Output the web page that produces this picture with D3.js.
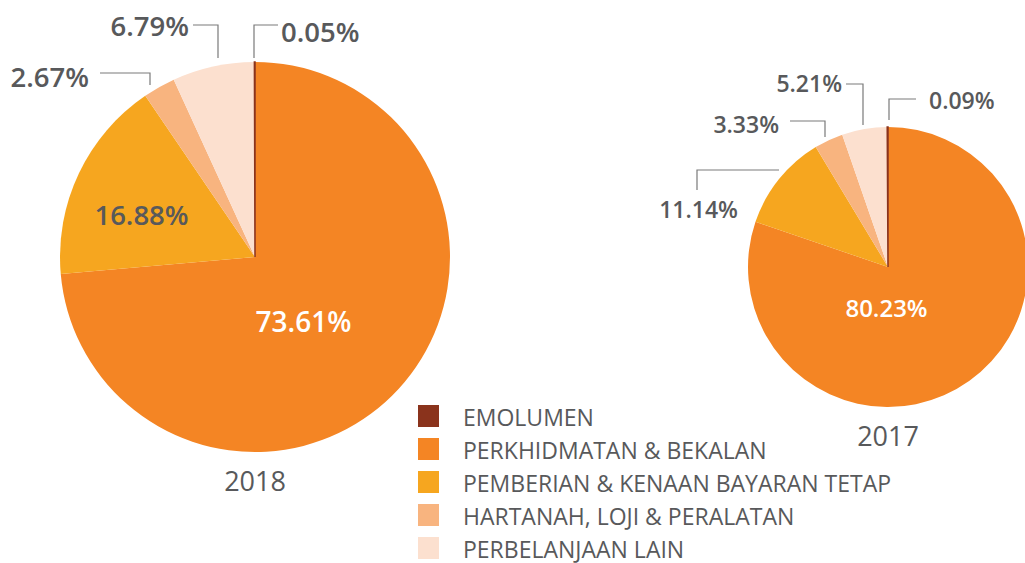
<!DOCTYPE html>
<html><head><meta charset="utf-8">
<script src="https://cdn.jsdelivr.net/npm/d3@7"></script>
<style>html,body{margin:0;padding:0;background:#fff;overflow:hidden}</style>
</head><body>
<svg id="c" width="1025" height="563"></svg>
<script>
const categories = ["EMOLUMEN", "PERKHIDMATAN & BEKALAN", "PEMBERIAN & KENAAN BAYARAN TETAP", "HARTANAH, LOJI & PERALATAN", "PERBELANJAAN LAIN"];
const values2018 = [0.05, 73.61, 16.88, 2.67, 6.79];
const values2017 = [0.09, 80.23, 11.14, 3.33, 5.21];
const years = ["2018", "2017"];
const sliceOrder = [1, 2, 3, 4, 0];
const colors = ["#8A331C", "#F48524", "#F6A61F", "#F8B47F", "#FCE0CF"];

const svg = d3.select("#c");
const gray = "#58595B";
const font = "'Open Sans', Roboto, sans-serif";
const color = d3.scaleOrdinal().domain(categories).range(colors);

const fmt = v => v.toFixed(2) + "%";

function drawPie(values, year, cx, cy, r, labelSize, inner, outer) {
  const data = sliceOrder.map(i => ({cat: categories[i], v: values[i]}));
  const pie = d3.pie().sort(null).value(d => d.v);
  const arc = d3.arc().innerRadius(0).outerRadius(r);
  const g = svg.append("g").attr("transform", `translate(${cx},${cy})`);
  const arcs = pie(data);
  g.selectAll("path").data(arcs).join("path")
    .attr("d", arc)
    .attr("fill", d => color(d.data.cat))
    .attr("stroke", d => d.data.cat === categories[0] ? color(d.data.cat) : "none")
    .attr("stroke-width", 1.5);
  g.append("text").attr("x", 0).attr("y", r + 39).attr("text-anchor", "middle")
    .attr("font-family", font).attr("font-size", 27).attr("fill", gray).text(year);
  inner.forEach(o => {
    const d = arcs.find(a => a.data.cat === categories[o.i]);
    g.append("text").attr("x", o.x).attr("y", o.y).attr("text-anchor", "middle")
      .attr("font-family", font).attr("font-weight", 600).attr("font-size", o.size)
      .attr("fill", o.fill).text(fmt(d.data.v));
  });
  outer.forEach(o => {
    const d = arcs.find(a => a.data.cat === categories[o.i]);
    g.append("path").attr("d", d3.line()(o.path)).attr("fill", "none")
      .attr("stroke", "#7a7a7a").attr("stroke-width", 1.2);
    g.append("text").attr("x", o.x).attr("y", o.y).attr("text-anchor", o.anchor)
      .attr("font-family", font).attr("font-weight", 600).attr("font-size", labelSize)
      .attr("fill", gray).text(fmt(d.data.v));
  });
}

// 2018
drawPie(values2018, years[0], 255, 257, 195, 27.5,
  [{i: 2, x: -113.5, y: -32, size: 27.5, fill: gray}, {i: 1, x: 48.5, y: 75, size: 28, fill: "#fff"}],
  [
    {i: 4, path: [[-62, -232], [-37, -232], [-37, -199]], x: -66, y: -221, anchor: "end"},
    {i: 0, path: [[-1, -199], [-1, -232], [23, -232]], x: 26, y: -215, anchor: "start"},
    {i: 3, path: [[-155, -184], [-105, -184], [-105, -172]], x: -166, y: -170, anchor: "end"}
  ]);

// 2017
drawPie(values2017, years[1], 888, 267, 140, 23,
  [{i: 1, x: -1.5, y: 50, size: 24, fill: "#fff"}],
  [
    {i: 4, path: [[-42, -183], [-25, -183], [-25, -142]], x: -46, y: -175, anchor: "end"},
    {i: 0, path: [[1, -147], [1, -168], [28, -168]], x: 41, y: -158, anchor: "start"},
    {i: 3, path: [[-98, -146], [-63, -146], [-63, -130]], x: -109, y: -134, anchor: "end"},
    {i: 2, path: [[-191, -77], [-191, -97], [-109, -97]], x: -150, y: -49, anchor: "end"}
  ]);

// legend
const lg = svg.append("g").attr("transform", "translate(418,405)");
const row = lg.selectAll("g").data(categories).join("g")
  .attr("transform", (d, i) => `translate(0,${i * 33})`);
row.append("rect").attr("width", 21).attr("height", 22).attr("fill", d => color(d));
row.append("text").attr("x", 45).attr("y", 21).attr("font-family", font)
  .attr("font-size", 23).attr("fill", gray).text(d => d);
</script>
</body></html>
